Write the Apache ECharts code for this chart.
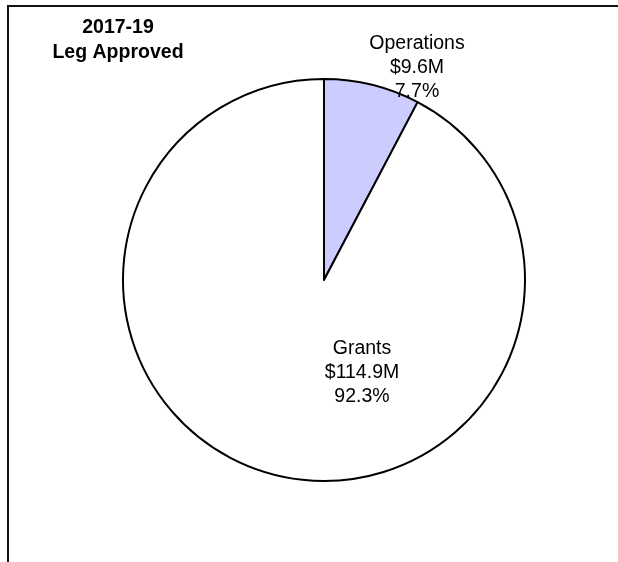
<!DOCTYPE html>
<html>
<head>
<meta charset="utf-8">
<script src="https://cdn.jsdelivr.net/npm/echarts@6/dist/echarts.min.js"></script>
<style>
  html, body { margin: 0; padding: 0; background: #fff; }
  #chart { width: 618px; height: 562px; }
</style>
</head>
<body>
<div id="chart"></div>
<script>
// Budget split, millions of dollars
const categories = ['Operations', 'Grants'];
const amounts = [9.6, 114.9];
const percents = ['7.7%', '92.3%'];
const sliceColors = ['#CCCCFF', '#FFFFFF'];
const titleLines = ['2017-19', 'Leg Approved'];

// Label anchor points (pixel) for each slice's text block
const labelSpots = [[417, 68], [362, 373]];

const chart = echarts.init(document.getElementById('chart'), null, { renderer: 'canvas' });

chart.setOption({
  animation: false,
  backgroundColor: '#ffffff',
  title: {
    text: titleLines.join('\n'),
    left: 113,
    top: 10,
    textAlign: 'center',
    textStyle: {
      fontFamily: 'Liberation Sans, Arial, sans-serif',
      fontSize: 19.5,
      fontWeight: 'bold',
      color: '#000',
      lineHeight: 25
    }
  },
  graphic: [
    { type: 'line', shape: { x1: 8, y1: 6, x2: 618, y2: 6 }, style: { stroke: '#111', lineWidth: 2 } },
    { type: 'line', shape: { x1: 8, y1: 5, x2: 8, y2: 562 }, style: { stroke: '#111', lineWidth: 2 } }
  ],
  series: [{
    type: 'pie',
    center: [324, 280],
    radius: [0, 201],
    startAngle: 90,
    clockwise: true,
    silent: true,
    data: categories.map((c, i) => ({
      name: c,
      value: amounts[i],
      itemStyle: { color: sliceColors[i] }
    })),
    itemStyle: { borderColor: '#000', borderWidth: 2 },
    label: {
      show: true,
      position: 'inside',
      formatter: p => p.name + '\n$' + amounts[p.dataIndex].toFixed(1) + 'M\n' + percents[p.dataIndex],
      fontFamily: 'Liberation Sans, Arial, sans-serif',
      fontSize: 19.5,
      color: '#000',
      lineHeight: 24,
      align: 'center'
    },
    labelLine: { show: false },
    labelLayout: p => ({
      x: labelSpots[p.dataIndex][0],
      y: labelSpots[p.dataIndex][1],
      align: 'center',
      verticalAlign: 'middle'
    })
  }]
});
</script>
</body>
</html>
